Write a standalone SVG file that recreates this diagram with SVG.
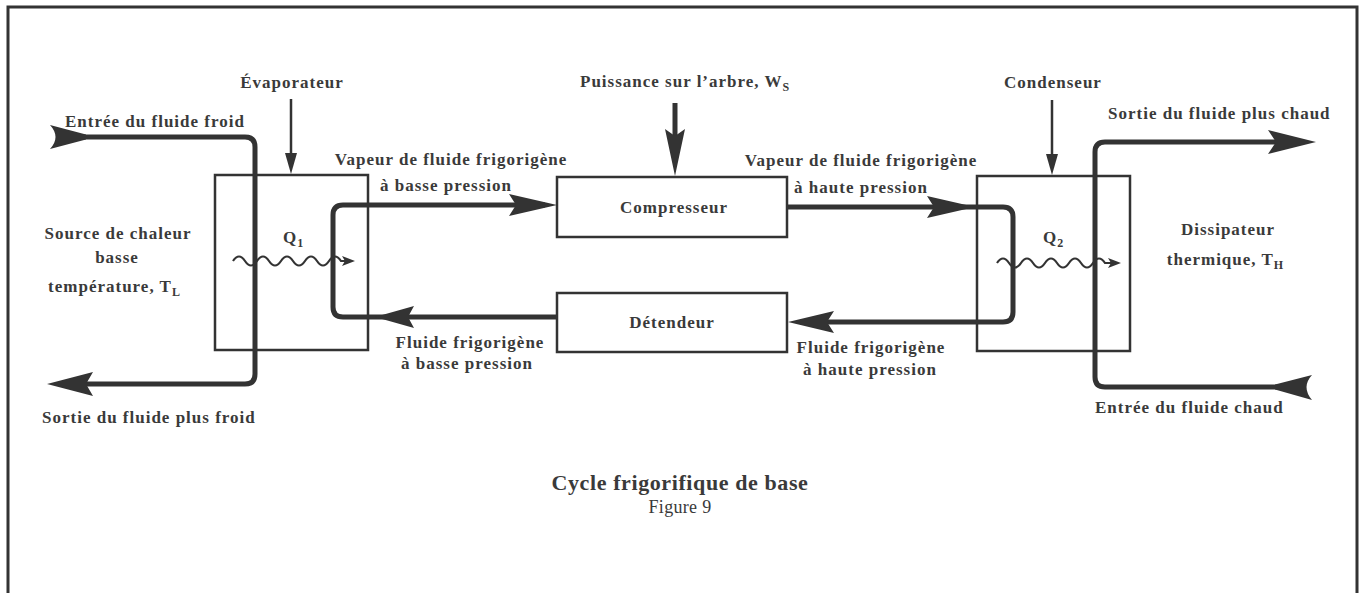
<svg xmlns="http://www.w3.org/2000/svg" width="1361" height="593" viewBox="0 0 1361 593">
<style>
text{font-family:"Liberation Serif","Times New Roman",serif;fill:#3a3a3a;font-weight:bold;font-size:17px;letter-spacing:1px}
.c{text-anchor:middle}
.sub{font-size:12px;letter-spacing:0}
.box{fill:none;stroke:#333;stroke-width:2.5}
.pipe{fill:none;stroke:#333;stroke-width:5;stroke-linejoin:round}
.thin{fill:none;stroke:#333;stroke-width:2.5}
.wave{fill:none;stroke:#333;stroke-width:2.2}
.head{fill:#333;stroke:none}
.frame{fill:none;stroke:#333;stroke-width:3}
</style>
<rect width="1361" height="593" fill="#fff"/>
<path class="frame" d="M8 593 V7 H1357 V593"/>

<g id="evaporateur">
<rect class="box" x="215" y="175" width="153" height="175"/>
<text class="c" x="292" y="88">Évaporateur</text>
</g>
<g id="compresseur">
<rect class="box" x="557" y="177" width="230" height="60"/>
<text class="c" x="674" y="213">Compresseur</text>
</g>
<g id="detendeur">
<rect class="box" x="557" y="293" width="230" height="59"/>
<text class="c" x="672" y="328">Détendeur</text>
</g>
<g id="condenseur">
<rect class="box" x="977" y="176" width="153" height="175"/>
<text class="c" x="1053" y="88">Condenseur</text>
</g>
<g id="source">
<text class="c" x="118" y="239">Source de chaleur</text>
<text class="c" x="117" y="263">basse</text>
<text class="c" x="114" y="292">température, T<tspan class="sub" dy="4">L</tspan></text>
</g>
<g id="dissipateur">
<text class="c" x="1228" y="235">Dissipateur</text>
<text class="c" x="1225" y="265">thermique, T<tspan class="sub" dy="4">H</tspan></text>
</g>
<g id="puissance">
<text x="580" y="87">Puissance sur l’arbre, W<tspan class="sub" dy="4">S</tspan></text>
</g>

<g id="connectors">
<!-- cold fluid -->
<path class="pipe" d="M80 137 H245 Q255 137 255 147 V374 Q255 384 245 384 H80"/>
<path class="head" d="M50 125 Q61 137 50 149 L86 139.5 L86 134.5 Z"/>
<path class="head" d="M47 384 L93 372 L86 384 L93 396 Z"/>
<text x="65" y="127">Entrée du fluide froid</text>
<text x="42" y="423">Sortie du fluide plus froid</text>
<!-- hot fluid -->
<path class="pipe" d="M1300 142 H1105 Q1095 142 1095 152 V377 Q1095 387 1105 387 H1290"/>
<path class="head" d="M1316 142 L1268 130 L1276 142 L1268 154 Z"/>
<path class="head" d="M1312 375 Q1301 387 1312 400 L1275 389.5 L1275 384.5 Z"/>
<text x="1108" y="119">Sortie du fluide plus chaud</text>
<text x="1095" y="413">Entrée du fluide chaud</text>
<!-- evaporator / condenser pointers -->
<line class="thin" x1="291" y1="99" x2="291" y2="162"/>
<path class="head" d="M291 174 L285 153 L297 153 Z"/>
<line class="thin" x1="1052" y1="100" x2="1052" y2="163"/>
<path class="head" d="M1052 175 L1046 154 L1058 154 Z"/>
<!-- shaft power -->
<line class="pipe" x1="675" y1="103" x2="675" y2="140"/>
<path class="head" d="M675 176 L665 129 L675 136 L685 129 Z"/>
<!-- left loop -->
<path class="pipe" d="M545 205 H343 Q333 205 333 215 V307 Q333 317 343 317 H557"/>
<path class="head" d="M557 205 L509 194 L516 205 L509 216 Z"/>
<path class="head" d="M375 317 L414 306 L408 317 L414 328 Z"/>
<text class="c" x="451" y="165">Vapeur de fluide frigorigène</text>
<text class="c" x="446" y="191">à basse pression</text>
<text class="c" x="470" y="348">Fluide frigorigène</text>
<text class="c" x="467" y="369">à basse pression</text>
<!-- right loop -->
<path class="pipe" d="M787 207 H1003 Q1013 207 1013 217 V312 Q1013 322 1003 322 H800"/>
<path class="head" d="M975 207 L927 196 L934 207 L927 218 Z"/>
<path class="head" d="M788 322 L834 311 L827 322 L834 333 Z"/>
<text class="c" x="861" y="166">Vapeur de fluide frigorigène</text>
<text class="c" x="861" y="193">à haute pression</text>
<text class="c" x="871" y="353">Fluide frigorigène</text>
<text class="c" x="870" y="375">à haute pression</text>
<!-- heat flows -->
<path class="wave" d="M233 261 q6 -9 12 0 t12 0 t12 0 t12 0 t12 0 t12 0 t12 0 t12 0 t12 0 H346"/>
<path class="head" d="M355 261 L342 256 L345 261 L342 266 Z"/>
<text x="283" y="243">Q<tspan class="sub" dy="4">1</tspan></text>
<path class="wave" d="M997 263 q6 -9 12 0 t12 0 t12 0 t12 0 t12 0 t12 0 t12 0 t12 0 t12 0 H1111"/>
<path class="head" d="M1121 263 L1108 258 L1111 263 L1108 268 Z"/>
<text x="1043" y="243">Q<tspan class="sub" dy="4">2</tspan></text>
</g>

<g id="caption">
<text class="c" x="680" y="490" style="font-size:22px;letter-spacing:0.6px">Cycle frigorifique de base</text>
<text class="c" x="680" y="513" style="font-weight:normal;font-size:18px;letter-spacing:0.3px">Figure 9</text>
</g>
</svg>
